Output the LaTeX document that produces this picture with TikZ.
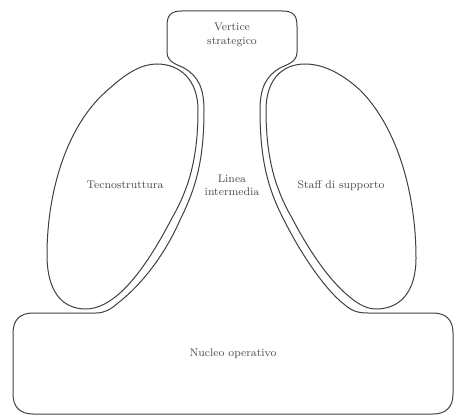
\documentclass[tikz,border=0pt]{standalone}
\begin{document}
\begin{tikzpicture}[x=0.75pt,y=-0.75pt,
  outline/.style={draw=black!75,line width=0.75pt,line join=round},
  lbl/.style={text=black!70,font=\fontsize{8.3}{10}\selectfont,align=center,inner sep=0pt}]
\fill[white] (0,0) rectangle (456,416);
\useasboundingbox (0,0) rectangle (456,416);
% main outline: apex, middle line, operating core
\draw[outline] (167,52) -- (167,26) .. controls (167,15) and (171,11) .. (182,11)
  -- (282,11) .. controls (293,11) and (297,15) .. (297,26) -- (297,52)
  .. controls (297,62) and (288,64) .. (280,68)
  .. controls (266,76) and (260,88) .. (260,110)
  .. controls (260,160) and (268,190) .. (285,222)
  .. controls (300,252) and (325,290) .. (345,305)
  .. controls (352,311) and (358,313) .. (368,313)
  -- (433,313) .. controls (446,313) and (453,320) .. (453,333)
  -- (453,394) .. controls (453,407) and (446,414) .. (433,414)
  -- (33,414) .. controls (20,414) and (13,407) .. (13,394)
  -- (13,333) .. controls (13,320) and (20,313) .. (33,313)
  -- (96,313) .. controls (104,313) and (110,310) .. (118,303)
  .. controls (145,282) and (167,250) .. (180,220)
  .. controls (196,188) and (204,160) .. (204,110)
  .. controls (204,88) and (198,76) .. (184,68)
  .. controls (176,64) and (167,62) .. (167,52) -- cycle;
% technostructure
\draw[outline] (157,64) .. controls (180,64) and (198,80) .. (198,110)
  .. controls (198,160) and (188,190) .. (172,218)
  .. controls (158,245) and (140,275) .. (120,293)
  .. controls (110,302) and (98,309) .. (86,309)
  .. controls (61,309) and (47,290) .. (47,255)
  .. controls (47,195) and (65,125) .. (110,88)
  .. controls (128,72) and (142,64) .. (157,64) -- cycle;
% support staff
\draw[outline] (305,64) .. controls (282,64) and (266,80) .. (266,110)
  .. controls (266,160) and (276,190) .. (292,218)
  .. controls (306,245) and (325,275) .. (345,293)
  .. controls (355,302) and (365,309) .. (376,309)
  .. controls (400,309) and (416,292) .. (416,258)
  .. controls (416,195) and (398,128) .. (360,90)
  .. controls (340,72) and (322,64) .. (305,64) -- cycle;
\node[lbl] (vs) at (232,35) {Vertice\\strategico};
\node[lbl] (tec) at (125,185) {Tecnostruttura};
\node[lbl] (li) at (232,185) {Linea\\intermedia};
\node[lbl] (st) at (341,186) {Staff di supporto};
\node[lbl] (no) at (233,354) {Nucleo operativo};
\end{tikzpicture}
\end{document}
